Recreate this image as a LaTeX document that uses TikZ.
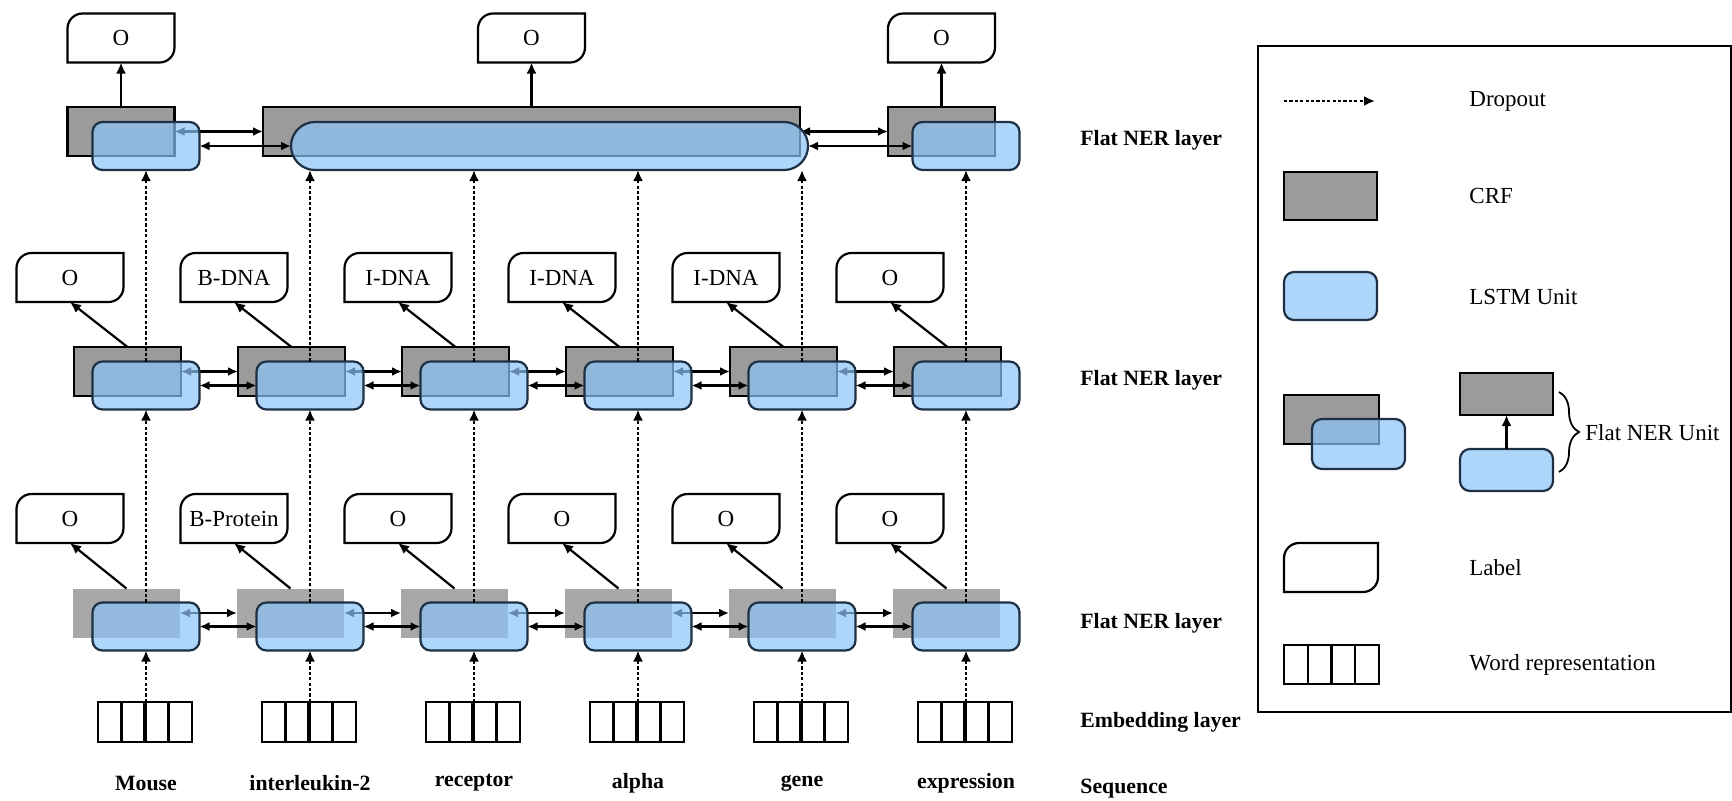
\documentclass[tikz,border=0pt]{standalone}
\usepackage{fontspec}
\setmainfont{Liberation Serif}
\usetikzlibrary{arrows.meta,calc,decorations.pathreplacing}
\definecolor{crfgray}{RGB}{155,155,155}
\definecolor{crflight}{RGB}{168,168,168}
\definecolor{lstmblue}{RGB}{140,195,248}
\definecolor{lstmborder}{RGB}{30,48,68}
\pgfdeclarelayer{crflayer}
\pgfdeclarelayer{linklayer}
\pgfsetlayers{crflayer,linklayer,main}
\newcommand\regf{\fontsize{11.5pt}{13pt}\selectfont}
\newcommand\boldf{\fontsize{10.9pt}{13pt}\selectfont\bfseries}
\newcommand\lblshape[1]{%
  \draw[lblline] (#1.south west) -- ([yshift=-7.5pt]#1.north west)
    .. controls ([yshift=-3.36pt]#1.north west) and ([xshift=3.36pt]#1.north west) .. ([xshift=7.5pt]#1.north west)
    -- (#1.north east) -- ([yshift=7.5pt]#1.south east)
    .. controls ([yshift=3.36pt]#1.south east) and ([xshift=-3.36pt]#1.south east) .. ([xshift=-7.5pt]#1.south east)
    -- cycle;}
\newcommand\wordcells[1]{%
  \draw[line width=1.1pt] ($(#1.north west)!0.25!(#1.north east)$) -- ($(#1.south west)!0.25!(#1.south east)$);
  \draw[line width=1.7pt] ($(#1.north west)!0.5!(#1.north east)$) -- ($(#1.south west)!0.5!(#1.south east)$);
  \draw[line width=1.1pt] ($(#1.north west)!0.75!(#1.north east)$) -- ($(#1.south west)!0.75!(#1.south east)$);}
\tikzset{
  crfbox/.style={draw=black, line width=1.1pt, fill=crfgray, minimum width=53.5pt, minimum height=24.5pt, inner sep=0pt, outer sep=0pt},
  crfsoft/.style={fill=crflight, draw=none, minimum width=53.5pt, minimum height=24.5pt, inner sep=0pt, outer sep=0pt},
  lstmbox/.style={draw=lstmborder, line width=1.1pt, fill=lstmblue, fill opacity=0.7, draw opacity=1, rounded corners=5pt, minimum width=53.5pt, minimum height=24pt, inner sep=0pt, outer sep=0pt},
  lblnode/.style={minimum width=53.5pt, minimum height=24.5pt, inner sep=0pt, outer sep=0pt, font=\regf},
  lblline/.style={draw=black, line width=1.1pt},
  wordbox/.style={draw=black, line width=1.3pt, minimum width=47pt, minimum height=20pt, inner sep=0pt, outer sep=0pt},
  dropout/.style={line width=1.1pt, dash pattern=on 1.6pt off 1.1pt, -{Latex[length=5.5pt,width=5pt]}},
  uparrow/.style={line width=1.1pt, -{Latex[length=5.5pt,width=5pt]}},
  biarrow/.style={line width=1.1pt, {Latex[length=5pt,width=4.5pt]}-{Latex[length=5pt,width=4.5pt]}},
  layertext/.style={font=\boldf, anchor=west, inner sep=0pt},
  wordtext/.style={font=\boldf, inner sep=0pt},
  legtext/.style={font=\regf, anchor=west, inner sep=0pt},
}
\begin{document}
\begin{tikzpicture}[x=0.5pt, y=-0.5pt]
\useasboundingbox (0,0) rectangle (1732,800);
% CRF boxes (bottom layer)
\begin{pgfonlayer}{crflayer}
  \node[crfbox] (tc1) at (121,131.5) {};
  \node[crfbox, minimum width=268.5pt] (tcbig) at (531.5,131.5) {};
  \node[crfbox] (tc6) at (941.5,131.5) {};
  \foreach \i in {1,...,6}{
    \pgfmathsetmacro\cx{146+164*(\i-1)}
    \node[crfbox] (mc\i) at (\cx-18.5,371.5) {};
    \node[crfsoft] (bc\i) at (\cx-19.5,613) {};
  }
\end{pgfonlayer}
% LSTM units
\node[lstmbox] (tl1) at (146,146) {};
\node[lstmbox, minimum width=258.5pt, rounded corners=12pt] (tlbig) at (549.5,146) {};
\node[lstmbox] (tl6) at (966,146) {};
% top labels
\node[lblnode] (tlab1) at (121,38) {O};
\node[lblnode] (tlab2) at (531.5,38) {O};
\node[lblnode] (tlab3) at (941.5,38) {O};
\lblshape{tlab1}\lblshape{tlab2}\lblshape{tlab3}
\foreach \i/\mtxt/\btxt/\wtxt in {1/O/O/Mouse, 2/B-DNA/B-Protein/interleukin-2, 3/I-DNA/O/receptor, 4/I-DNA/O/alpha, 5/I-DNA/O/gene, 6/O/O/expression}{
  \pgfmathsetmacro\cx{146+164*(\i-1)}
  \node[lstmbox] (ml\i) at (\cx,385.5) {};
  \node[lstmbox] (bl\i) at (\cx,626.5) {};
  \node[lblnode] (mlab\i) at (\cx-76,277.5) {\mtxt};
  \node[lblnode] (blab\i) at (\cx-76,518.5) {\btxt};
  \lblshape{mlab\i}
  \lblshape{blab\i}
  \node[wordbox] (w\i) at (\cx-1,722) {};
  \wordcells{w\i}
  \node[wordtext] (t\i) at (\cx,783) {\wtxt};
}
% horizontal links (between CRF and LSTM layers)
\begin{pgfonlayer}{linklayer}
  \draw[biarrow] (tc1.east) -- (tcbig.west);
  \draw[biarrow] (tl1.east) -- (tlbig.west);
  \draw[biarrow] (tcbig.east) -- (tc6.west);
  \draw[biarrow] (tlbig.east) -- (tl6.west);
  \foreach \i [evaluate=\i as \j using int(\i+1)] in {1,...,5}{
    \draw[biarrow] (mc\i.east) -- (mc\j.west);
    \draw[biarrow] (ml\i.east) -- (ml\j.west);
    \draw[biarrow] (bc\i.east) -- (bc\j.west);
    \draw[biarrow] (bl\i.east) -- (bl\j.west);
  }
\end{pgfonlayer}
% dropout arrows
\foreach \i in {1,...,6}{
  \draw[dropout] (w\i.north -| bl\i.south) -- (bl\i.south);
  \draw[dropout] (bl\i.north) -- (ml\i.south);
  \draw[uparrow] (mc\i.north) -- (mlab\i.south);
  \draw[uparrow] (bc\i.north) -- (blab\i.south);
}
\draw[dropout] (ml1.north) -- (tl1.south);
\draw[dropout] (ml6.north) -- (tl6.south);
\foreach \i in {2,...,5}{
  \draw[dropout] (ml\i.north) -- (ml\i.north |- tlbig.south);
}
\draw[uparrow] (tc1.north) -- (tlab1.south);
\draw[uparrow] (tcbig.north) -- (tlab2.south);
\draw[uparrow] (tc6.north) -- (tlab3.south);
% layer names
\node[layertext] (ly1) at (1080,140) {Flat NER layer};
\node[layertext] (ly2) at (1080,380) {Flat NER layer};
\node[layertext] (ly3) at (1080,623) {Flat NER layer};
\node[layertext] (ly4) at (1080,722) {Embedding layer};
\node[layertext] (ly5) at (1080,789) {Sequence};
% legend
\node[draw, line width=1.1pt, minimum width=236.5pt, minimum height=333pt, anchor=north west, inner sep=0pt] (legend) at (1257,45) {};
\coordinate (dA) at (1284,101);
\coordinate (dB) at (1375,101);
\draw[dropout] (dA) -- (dB);
\node[legtext] (lt1) at (1469,101) {Dropout};
\node[crfbox, minimum width=46.5pt, minimum height=24pt] (lgc) at (1330.5,196) {};
\node[legtext] (lt2) at (1469,196) {CRF};
\node[lstmbox, minimum width=46.5pt, minimum height=24pt] (lgl) at (1330.5,296) {};
\node[legtext] (lt3) at (1469,297) {LSTM Unit};
\node[crfbox, minimum width=47.5pt, minimum height=24.5pt] (lgoc) at (1331.5,419.5) {};
\node[lstmbox, minimum width=46.5pt, minimum height=25pt] (lgol) at (1358.5,444) {};
\node[crfbox, minimum width=46.5pt, minimum height=21pt] (lgfc) at (1506.5,394) {};
\node[lstmbox, minimum width=46.5pt, minimum height=21pt] (lgfl) at (1506.5,470) {};
\draw[uparrow] (lgfl.north) -- (lgfc.south);
\coordinate (brA) at (1559,392);
\coordinate (brB) at (1559,472);
\draw[decorate, decoration={brace, amplitude=10pt}, line width=0.9pt] (brA) -- (brB);
\node[legtext] (lt4) at (1585,433) {Flat NER Unit};
\node[lblnode, minimum width=47pt] (lglab) at (1331,567.5) {};
\lblshape{lglab}
\node[legtext] (lt5) at (1469,568) {Label};
\node[wordbox, minimum width=47.5pt, minimum height=19.5pt] (lgw) at (1331.5,664.5) {};
\wordcells{lgw}
\node[legtext] (lt6) at (1469,665) {Word representation};
\end{tikzpicture}
\end{document}
